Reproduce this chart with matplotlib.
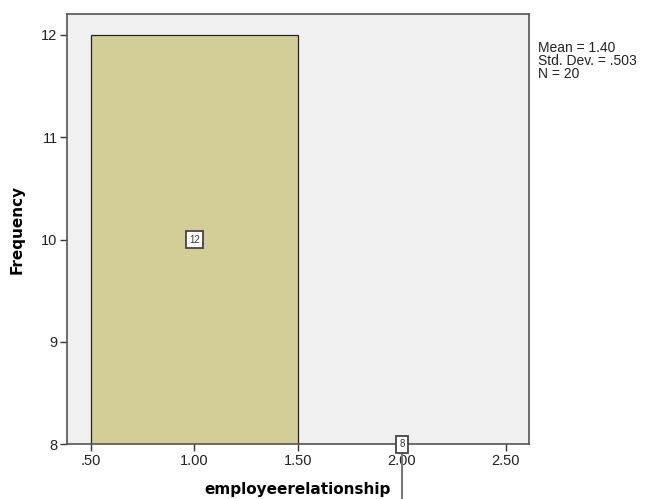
import matplotlib
matplotlib.use("Agg")
import matplotlib.pyplot as plt

# histogram bins
bin_centers = [1.0, 2.0]
counts = [12, 8]
bin_width = 1.0
x_ticks = [0.5, 1.0, 1.5, 2.0, 2.5]
x_ticklabels = ['.50', '1.00', '1.50', '2.00', '2.50']
y_ticks = [8, 9, 10, 11, 12]
stats_lines = ['Mean = 1.40', 'Std. Dev. = .503', 'N = 20']

plt.rcParams['font.family'] = ['Liberation Sans', 'DejaVu Sans']

fig = plt.figure(figsize=(6.47, 4.99), dpi=100)
ax = fig.add_axes([0.104, 0.110, 0.713, 0.862])
ax.set_facecolor('#f0f0f0')

ax.bar(bin_centers, counts, width=bin_width, color='#d3ce98',
       edgecolor='#222222', linewidth=0.9, zorder=2)

ax.set_xlim(0.387, 2.611)
ax.set_ylim(8, 12.205)
ax.set_xticks(x_ticks)
ax.set_xticklabels(x_ticklabels)
ax.set_yticks(y_ticks)
ax.tick_params(axis='both', direction='out', length=5, width=1,
               color='#333333', labelsize=10.5, labelcolor='#222222', pad=2)

for side in ax.spines.values():
    side.set_color('#555555')
    side.set_linewidth(1.2)

# count labels in the middle of the visible part of each bar
ymin = ax.get_ylim()[0]
for xc, c in zip(bin_centers, counts):
    yc = (max(ymin, 0) + c) / 2
    if c <= ymin:
        ax.plot([xc, xc], [yc, 7.4], color='#777777', lw=1.5,
                clip_on=False, zorder=3)
    ax.text(xc, yc, str(c), ha='center', va='center', fontsize=7,
            color='#333333', zorder=4, clip_on=False,
            bbox=dict(boxstyle='square,pad=0.35', fc='white',
                      ec='#444444', lw=1.3))

ax.set_xlabel('employeerelationship', fontsize=11, fontweight='bold',
              family='DejaVu Sans', labelpad=10)
ax.set_ylabel('Frequency', fontsize=11, fontweight='bold',
              family='DejaVu Sans', labelpad=12)

fig.text(0.831, 0.918, '\n'.join(stats_lines), ha='left', va='top',
         fontsize=10, linespacing=0.9, color='#222222')

fig.savefig('out.png', dpi=100)
